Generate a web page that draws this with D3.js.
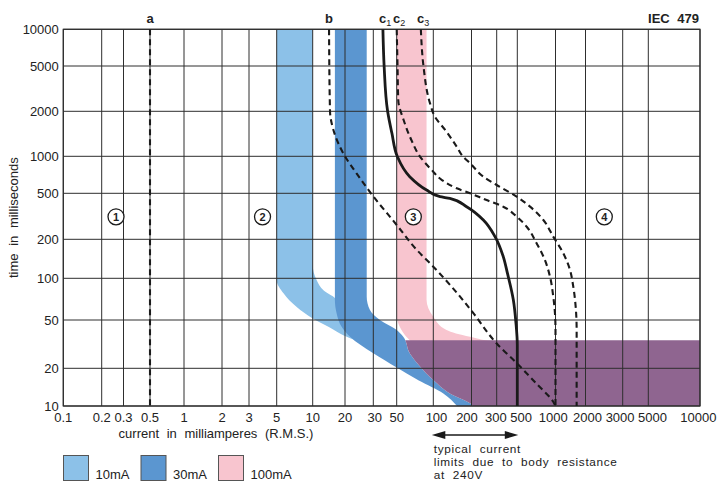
<!DOCTYPE html>
<html><head><meta charset="utf-8">
<script src="https://cdn.jsdelivr.net/npm/d3@7"></script>
<style>
body{margin:0;background:#fff}
svg{display:block}
text{font-family:"Liberation Sans",Arial,Helvetica,sans-serif;fill:#222}
</style>
</head><body>
<svg id="chart" width="724" height="481"></svg>
<script>
// ---------------- DATA ----------------
const xTickValues = [0.1,0.2,0.3,0.5,1,2,3,5,10,20,30,50,100,200,300,500,1000,2000,3000,5000,10000];
const yTickValues = [10,20,50,100,200,500,1000,2000,5000,10000];

// curves: [current mA, time ms]
const curveA = [[0.5,10000],[0.5,10]];
const curveB = [[14.2,10000],[14.5,2000],[15.6,1500],[20,1000],[23.6,727],[29,500],[50,266],[73,166],[100,123],[162,74],[206,56],[300,32],[495,22],[711,15],[960,10.8],[1000,10]];
const curveC1 = [[37,10000],[38,5000],[41,2000],[45,1430],[50.5,1000],[64,683],[88,532],[113,467],[135,452],[183,383],[242,294],[292,211],[353,147],[392,109],[453,70],[484,47],[500,31],[500,10]];
const curveC2 = [[50,10000],[50.8,5000],[51.5,2500],[57,1750],[66,1285],[78,990],[97,773],[117,641],[153,549],[195,500],[255,437],[353,383],[493,314],[593,257],[711,186],[826,138],[905,103],[960,74],[990,56],[1000,41],[1000,10]];
const curveC3 = [[79,10000],[83,5000],[94,2350],[103,1840],[124,1500],[153,1160],[171,1000],[195,877],[242,683],[300,584],[493,467],[630,383],[802,294],[960,211],[1197,156],[1398,116],[1508,87],[1595,62],[1630,41],[1630,10]];

// bands (outer edge and inner edge, top to bottom)
const band10Outer = [[5,10000],[5,97],[5.7,78],[7.35,62],[10.1,51],[14,44],[20.5,36.4],[23.1,34.2]];
const band10Inner = [[10,10000],[10,127],[10.9,97],[12.6,82],[16.1,72],[20,50]];
const band30Outer = [[16.1,10000],[16.1,70],[16.7,56],[18.6,44],[21.5,36.4],[30,26.6],[50,20.3],[76,16],[120,12.6],[154,10]];
const band30Inner = [[27.3,10000],[27.3,74],[28.6,59],[34.7,50],[50,41.4],[56.6,36.4],[64,26.6],[78,20.6],[100,16.1],[135,12.6],[195,10.5],[205,10]];
const band100Outer = [[50,10000],[50,53],[53,44],[60,36.4],[66,33]];
const band100Inner = [[88,10000],[88,70],[100,52.8],[127,41.4],[195,36.4],[283,33.6],[400,33]];
const zone4TripTime = 34;   // top of purple zone (ms)

const curveLabels = [
  {text:"a", sub:"", x:0.5},
  {text:"b", sub:"", x:14.2},
  {text:"c", sub:"1", x:37},
  {text:"c", sub:"2", x:50},
  {text:"c", sub:"3", x:79}
];
const zoneLabels = [
  {label:"1", x:0.261, t:313},
  {label:"2", x:3.85, t:313},
  {label:"3", x:68.5, t:313},
  {label:"4", x:2455, t:313}
];
const legendItems = ["10mA","30mA","100mA"];
const bodyResistanceRange = [100, 500];
const noteLines = ["typical current","limits due to body resistance","at 240V"];

// ---------------- LAYOUT ----------------
const xBreakPx = [63.3,101.7,123.5,150,184,222,249,276.7,312.7,345,373.3,396.7,433.3,471.5,496.7,517.3,555.5,585.5,622.7,648.3,700];
const yBreakPx = [406,368.3,320,278.3,239.3,193.3,156.3,111.3,66,29.3];
const xLabelNudge = new Map([[30,1.5],[100,3.2],[200,-4.5],[300,-0.8],[500,3.8],[1000,-2.2],[2000,2],[3000,-2.6],[5000,4.2],[10000,-1.7]]);
const colors = {c10:"#8cc1e8", c30:"#5b96d0", c100:"#f8c5cf", zone:"#8f6590", grid:"#2e2e2e", ink:"#1a1a1a"};

const x = d3.scaleLog().domain(xTickValues).range(xBreakPx);
const y = d3.scaleLog().domain(yTickValues).range(yBreakPx);
const L = x(0.1), R = x(10000), T = y(10000), B = y(10);

const svg = d3.select("#chart");
const defs = svg.append("defs");
defs.append("clipPath").attr("id","plot").append("rect").attr("x",L).attr("y",T).attr("width",R-L).attr("height",B-T);
defs.append("clipPath").attr("id","zoneclip").append("rect").attr("x",L).attr("y",y(zone4TripTime)).attr("width",R-L).attr("height",B-y(zone4TripTime));

const lineMono = d3.line().x(d=>x(d[0])).y(d=>y(d[1])).curve(d3.curveMonotoneY);
function bandPath(outer, inner){
  const p1 = lineMono(outer);
  const p2 = lineMono(inner.slice().reverse()).replace(/^M/,"L");
  return p1 + p2 + "Z";
}

const fills = svg.append("g").attr("clip-path","url(#plot)");
fills.append("path").attr("d", bandPath(band10Outer, band10Inner)).attr("fill", colors.c10);
fills.append("path").attr("d", bandPath(band30Outer, band30Inner)).attr("fill", colors.c30);
fills.append("path").attr("d", bandPath(band100Outer, band100Inner)).attr("fill", colors.c100);
// purple zone: right of the 30mA band's inner edge, below trip time
{
  const edge = band30Inner.filter(d=>d[1] <= 45);
  const p = lineMono(edge) + `L${x(10000)},${y(10)}L${x(10000)},${y(45)}Z`;
  fills.append("path").attr("d", p).attr("fill", colors.zone).attr("clip-path","url(#zoneclip)");
}

// grid
const grid = svg.append("g").attr("stroke", colors.grid).attr("stroke-width",1);
grid.selectAll("line.v").data(xTickValues).join("line")
  .attr("x1",d=>x(d)).attr("x2",d=>x(d)).attr("y1",T).attr("y2",B);
grid.selectAll("line.h").data(yTickValues).join("line")
  .attr("y1",d=>y(d)).attr("y2",d=>y(d)).attr("x1",L).attr("x2",R);
svg.append("rect").attr("x",L).attr("y",T).attr("width",R-L).attr("height",B-T)
  .attr("fill","none").attr("stroke",colors.grid).attr("stroke-width",1.2);

// curves
const curves = svg.append("g").attr("clip-path","url(#plot)").attr("fill","none").attr("stroke",colors.ink);
const dashed = [curveA, curveB, curveC2, curveC3];
dashed.forEach(c=>curves.append("path").attr("d", lineMono(c)).attr("stroke-width",2.1).attr("stroke-dasharray","6,4"));
curves.append("path").attr("d", lineMono(curveC1)).attr("stroke-width",2.8);

// tick labels
svg.append("g").selectAll("text").data(xTickValues).join("text")
  .attr("x",d=>x(d) + (xLabelNudge.get(d) || 0)).attr("y",421.5).attr("text-anchor","middle").attr("font-size",13)
  .text(d=>String(d));
svg.append("g").selectAll("text").data(yTickValues).join("text")
  .attr("x",L-4.5).attr("y",d=>y(d)).attr("dy","0.36em").attr("text-anchor","end").attr("font-size",13)
  .text(d=>String(d));

// axis titles
svg.append("text").attr("x",216).attr("y",438).attr("text-anchor","middle").attr("font-size",13)
  .attr("word-spacing",4).text("current in milliamperes (R.M.S.)");
svg.append("text").attr("transform",`translate(18,${(T+B)/2}) rotate(-90)`).attr("text-anchor","middle")
  .attr("font-size",13).attr("word-spacing",4).text("time in milliseconds");

// curve labels
curveLabels.forEach(c=>{
  const t = svg.append("text").attr("x", x(c.x) - (c.sub ? 3.8 : 0)).attr("y",23)
    .attr("text-anchor", c.sub ? "start" : "middle").attr("font-size",13).attr("font-weight","bold").text(c.text);
  if(c.sub) t.append("tspan").attr("font-size",9).attr("font-weight","normal").attr("dy",3).text(c.sub);
});
svg.append("text").attr("x",699).attr("y",23).attr("text-anchor","end").attr("font-size",13)
  .attr("font-weight","bold").attr("word-spacing",4).text("IEC 479");

// zone labels
const zl = svg.append("g").selectAll("g").data(zoneLabels).join("g")
  .attr("transform",d=>`translate(${x(d.x)},${y(d.t)})`);
zl.append("circle").attr("r",8).attr("fill","#fff").attr("stroke",colors.ink).attr("stroke-width",1.3);
zl.append("text").attr("text-anchor","middle").attr("dy","0.36em").attr("font-size",11).attr("font-weight","bold").text(d=>d.label);

// arrow
{
  const ax0 = x(bodyResistanceRange[0]), ax1 = x(bodyResistanceRange[1]), ay = 435;
  svg.append("line").attr("x1",ax0+6).attr("x2",ax1-6).attr("y1",ay).attr("y2",ay).attr("stroke",colors.ink).attr("stroke-width",1.3);
  svg.append("path").attr("d",`M${ax0-1.5},${ay}L${ax0+12},${ay-4}L${ax0+12},${ay+4}Z`).attr("fill",colors.ink);
  svg.append("path").attr("d",`M${ax1+1},${ay}L${ax1-12.5},${ay-4}L${ax1-12.5},${ay+4}Z`).attr("fill",colors.ink);
  svg.append("g").selectAll("text").data(noteLines).join("text")
    .attr("x",ax0+0.5).attr("y",(d,i)=>452.7+i*13.3).attr("font-size",11.8)
    .attr("letter-spacing",0.65).attr("word-spacing",4).text(d=>d);
}

// legend
const legendColors = [colors.c10, colors.c30, colors.c100];
const lg = svg.append("g").selectAll("g").data(legendItems).join("g")
  .attr("transform",(d,i)=>`translate(${63.5 + i*77.5},455.5)`);
lg.append("rect").attr("width",25).attr("height",25).attr("fill",(d,i)=>legendColors[i]).attr("stroke","#555").attr("stroke-width",1);
lg.append("text").attr("x",32).attr("y",23.5).attr("font-size",13).text(d=>d);
</script>
</body></html>
